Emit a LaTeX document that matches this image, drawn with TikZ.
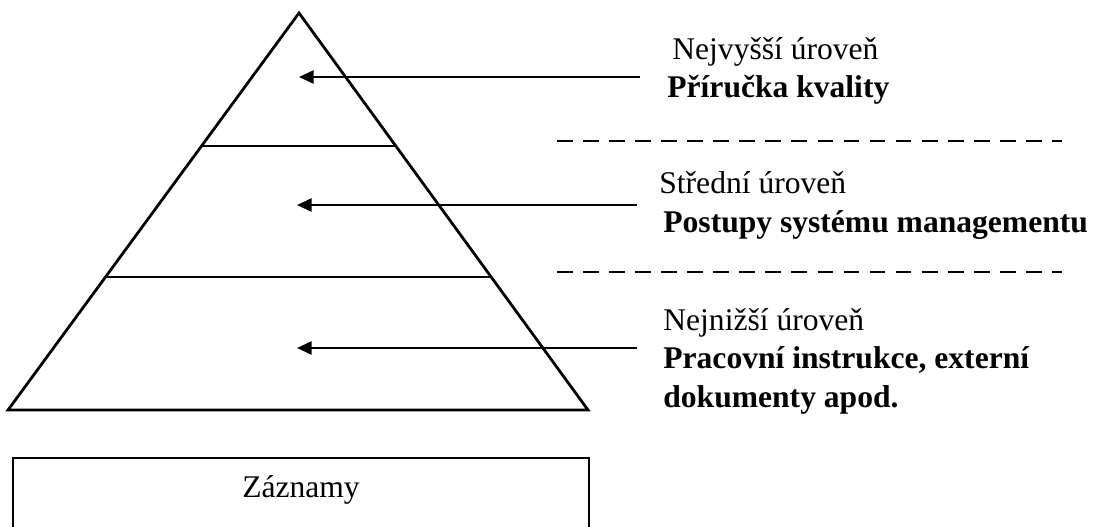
\documentclass[tikz,border=0pt]{standalone}
\usepackage{fontspec}
\setmainfont{Liberation Serif}
\usetikzlibrary{arrows.meta,calc}
\begin{document}
\begin{tikzpicture}[x=0.38pt, y=-0.38pt, line width=1.05pt,
    lvl/.style={anchor=base west, inner sep=0pt, font=\fontsize{12}{14}\selectfont},
    lvlb/.style={lvl, font=\fontsize{12}{14}\selectfont\bfseries},
    ptr/.style={line width=0.95pt, -{Triangle[length=5.6pt, width=5pt]}},
    sep/.style={line width=0.75pt, dash pattern=on 6pt off 3.9pt}]
     \useasboundingbox (0,0) rectangle (1094,526);
     \clip (0,0) rectangle (1094,526);
     % pyramid
     \coordinate (top) at (299,13);
     \coordinate (bl) at (8,410);
     \coordinate (br) at (588,410);
     \draw (top)--(bl)--(br)--cycle;
     \foreach \f in {0.335,0.665}
     {
         \draw ($(top)!\f!(bl)$)--($(top)!\f!(br)$);
     }
     % texts
     \node[lvl]  (hi1) at (671,59)  {Nejvyšší úroveň};
     \node[lvlb] (hi2) at (666,97)  {Příručka kvality};
     \node[lvl]  (md1) at (658,193) {Střední úroveň};
     \node[lvlb] (md2) at (662,232) {Postupy systému managementu};
     \node[lvl]  (lo1) at (662,330) {Nejnižší úroveň};
     \node[lvlb] (lo2) at (662,368) {Pracovní instrukce, externí};
     \node[lvlb] (lo3) at (662,407) {dokumenty apod.};
     % arrows
     \coordinate (s1) at (640,77);  \coordinate (e1) at (299,77);
     \coordinate (s2) at (637,205); \coordinate (e2) at (297,205);
     \coordinate (s3) at (637,348); \coordinate (e3) at (297,348);
     \foreach \i in {1,2,3}
     {
         \draw[ptr] (s\i)--(e\i);
     }
     % separators
     \foreach \y in {141,272}
     {
         \draw[sep] (557,\y)--(1062,\y);
     }
     % records
     \draw (13,458) rectangle (589,560);
     \node[anchor=base, inner sep=0pt, font=\fontsize{12}{14}\selectfont] (rec) at (301,497) {Záznamy};
\end{tikzpicture}
\end{document}
